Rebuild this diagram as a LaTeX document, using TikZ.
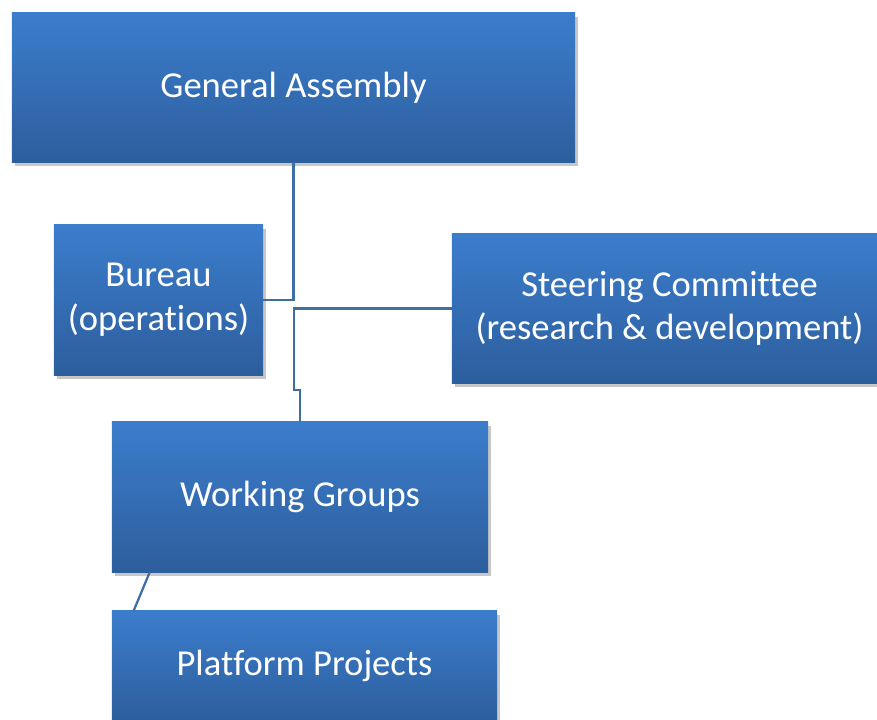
\documentclass[tikz,border=0pt]{standalone}
\usepackage{fontspec}
\setmainfont{Carlito}[Ligatures=NoCommon]
\usetikzlibrary{shadows}

\definecolor{boxtop}{RGB}{59,125,204}
\definecolor{boxbottom}{RGB}{45,94,157}
\definecolor{linkblue}{RGB}{63,110,165}

\tikzset{
  orgbox/.style={rectangle, top color=boxtop, bottom color=boxbottom, draw=none,
    text=white, align=center, font=\fontsize{26}{31}\selectfont, inner sep=0pt,
    drop shadow={shadow xshift=2pt, shadow yshift=-3pt, fill=black, opacity=0.22}},
  link/.style={draw=linkblue, line width=1.6pt}
}

\begin{document}
\begin{tikzpicture}[x=0.025cm, y=-0.025cm]
\useasboundingbox (0, 0) rectangle (877, 720);
\node[orgbox, minimum width=14.075cm, minimum height=3.725cm] (ga) at (293.5, 87.5) {General Assembly};
\node[orgbox, minimum width=5.225cm, minimum height=3.75cm] (bureau) at (158.5, 300) {Bureau\\(operations)};
\node[orgbox, minimum width=10.875cm, minimum height=3.725cm] (steer) at (669.5, 308.5) {Steering Committee\\(research \& development)};
\node[orgbox, minimum width=9.4cm, minimum height=3.75cm] (wg) at (300, 497) {Working Groups};
\node[orgbox, minimum width=9.625cm, minimum height=2.75cm] (pp) at (304.5, 666) {Platform Projects};
% connectors
\coordinate (jog) at (294, 390);
\draw[link] (ga.south) |- (bureau.east);
\draw[link] (steer.west) -| (jog) -| (wg.north);
\draw[link] ([xshift=0.95cm]wg.south west) -- ([xshift=0.55cm]pp.north west);
\end{tikzpicture}
\end{document}
